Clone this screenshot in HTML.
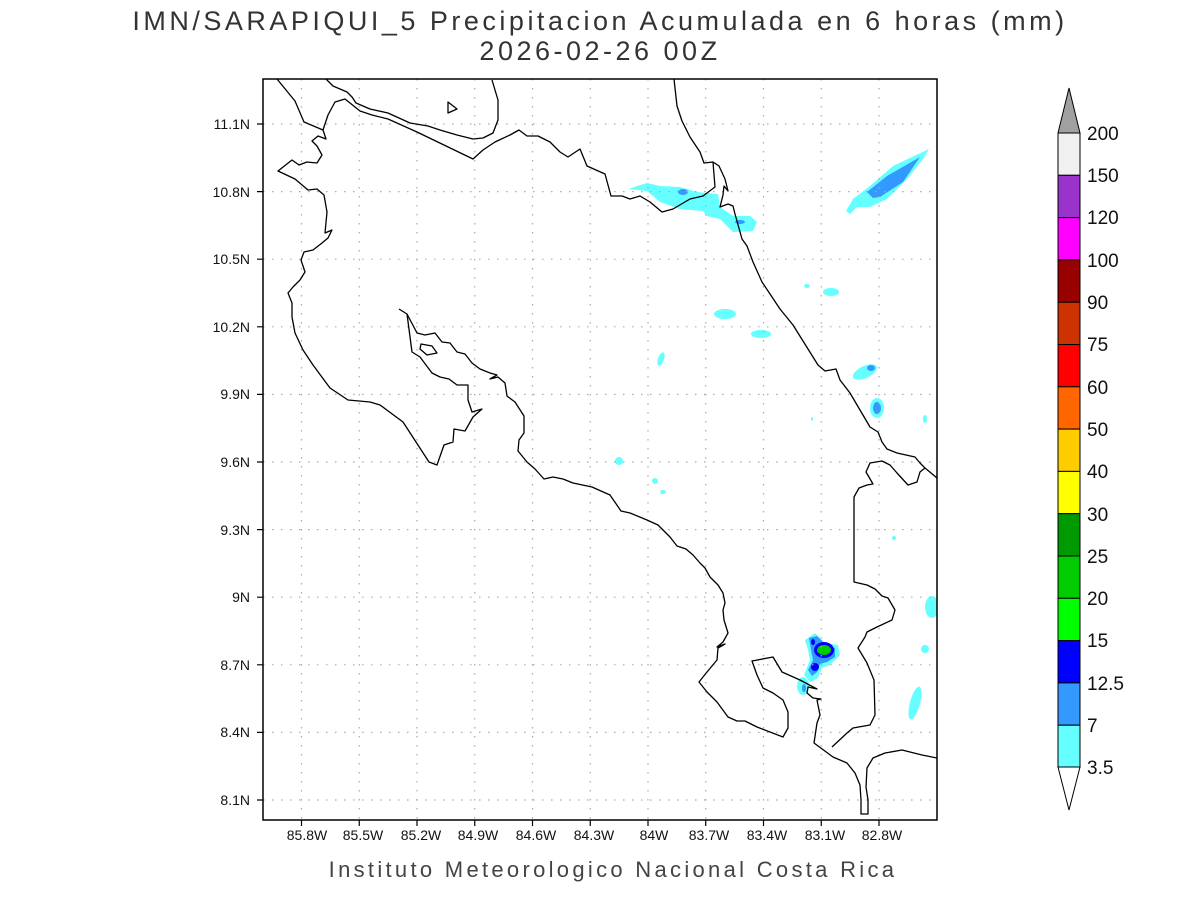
<!DOCTYPE html>
<html><head><meta charset="utf-8"><style>body{margin:0;background:#fff}svg{display:block}text{font-family:"Liberation Sans",sans-serif}</style></head><body>
<svg width="1200" height="900" viewBox="0 0 1200 900" xmlns="http://www.w3.org/2000/svg">
<rect width="1200" height="900" fill="#fff"/>
<text x="600" y="30" font-size="27" text-anchor="middle" fill="#333" letter-spacing="3.5">IMN/SARAPIQUI_5 Precipitacion Acumulada en 6 horas (mm)</text>
<text x="600" y="60" font-size="27" text-anchor="middle" fill="#333" letter-spacing="3.5">2026-02-26 00Z</text>
<defs><clipPath id="c"><rect x="263" y="79" width="674" height="741"/></clipPath></defs>
<g clip-path="url(#c)">
<g fill="#66ffff">
<path d="M846,211 853,199 870,186 893,166 929,149 923,159 907,179 887,199 870,207 857,207 850,214Z"/>
<path d="M628,189 647,183 660,186 680,187 697,192 718,194 720,207 733,216 750,216 757,222 753,231 733,232 720,219 707,216 703,211 680,209 660,202 647,191Z"/>
<ellipse cx="725" cy="314" rx="11" ry="5"/><ellipse cx="761" cy="334" rx="10" ry="4"/>
<ellipse cx="661" cy="359" rx="3" ry="7" transform="rotate(20 661 359)"/><ellipse cx="831" cy="292" rx="8" ry="4"/>
<ellipse cx="807" cy="286" rx="3" ry="2"/><ellipse cx="619" cy="461" rx="4" ry="4"/><ellipse cx="655" cy="481" rx="3" ry="3"/><ellipse cx="663" cy="492" rx="3" ry="2"/>
<ellipse cx="865" cy="372" rx="13" ry="6" transform="rotate(-25 865 372)"/><ellipse cx="877" cy="408" rx="7" ry="10"/>
<ellipse cx="925" cy="419" rx="2" ry="4"/><ellipse cx="812" cy="419" rx="1" ry="2"/><ellipse cx="894" cy="538" rx="2" ry="2"/>
<ellipse cx="932" cy="607" rx="7" ry="11"/><ellipse cx="925" cy="649" rx="4" ry="4"/>
<ellipse cx="915" cy="703" rx="5" ry="17" transform="rotate(15 915 703)"/>
<path d="M805,640 815,633 825,643 838,645 840,655 830,665 822,668 818,678 810,682 804,675 810,660 808,650Z"/>
<ellipse cx="803" cy="686" rx="6" ry="9"/>
</g>
<g fill="#3399ff">
<path d="M867,192 887,176 920,157 903,182 880,197 873,198Z"/>
<ellipse cx="683" cy="192" rx="5" ry="3"/><ellipse cx="740" cy="222" rx="5" ry="2"/>
<ellipse cx="871" cy="368" rx="4" ry="3"/><ellipse cx="877" cy="408" rx="4" ry="6"/>
<path d="M809,638 817,636 826,645 835,648 835,657 827,662 820,664 817,672 812,676 808,670 813,660 811,650Z"/>
<ellipse cx="804" cy="688" rx="2" ry="4"/>
</g>
<g fill="#0000ff"><ellipse cx="824" cy="650" rx="10" ry="8"/><ellipse cx="815" cy="667" rx="4" ry="4"/><ellipse cx="813" cy="642" rx="2" ry="3"/></g>
<ellipse cx="824" cy="650" rx="7" ry="5" fill="#00cc00"/>
<g stroke="#aaa" stroke-width="1.2" stroke-dasharray="1.5,7.5">
<path d="M301.5,79V820M359.25,79V820M417,79V820M474.75,79V820M532.5,79V820M590.25,79V820M648,79V820M705.75,79V820M763.5,79V820M821.25,79V820M879,79V820"/>
<path d="M263,124H937M263,191.6H937M263,259.2H937M263,326.8H937M263,394.4H937M263,462H937M263,529.6H937M263,597.2H937M263,664.8H937M263,732.4H937M263,800H937"/>
</g>
<g fill="none" stroke="#000" stroke-width="1.3" stroke-linejoin="round">
<path d="M277,79 295,101 304,122 323,130 326,139 318,136 312,141 317,146 322,155 317,163 307,162 299,165 292,160 278,171 295,179 308,190 317,189 324,195 327,212 325,233 332,230 328,238 322,243 313,250 304,252 301,260 305,272 300,280 293,287 288,293 292,303 292,317 295,333 303,350 313,365 330,388 348,400 370,402 380,405 403,422 429,462 437,465 444,445 453,442 454,429 465,431 473,417 482,409 472,412 468,400 468,385 457,385 449,379 440,377 432,373 420,357 412,352 407,314 399,309"/>
<path d="M407,314 417,333 425,335 435,333 442,342 450,343 457,352 465,354 472,363 480,369 490,373 497,375 490,379 498,377 505,383 507,396 515,402 524,416 524,433 519,440 518,451 527,462 535,469 544,479 553,477 563,479 573,483 592,487 610,495 621,511 630,513 647,520 658,525 670,537 677,546 686,549 693,555 700,563 705,568 710,577 718,585 723,593 725,603 723,610 724,620 728,633 723,642 717,647 725,644 718,648 717,660 707,672 699,682 707,692 717,702 728,717 737,721 745,721 757,727 783,737 788,728 788,712 783,700 773,693 763,688 757,675 752,661 773,657 782,672 800,680 817,689 808,687 807,693 813,698 821,699 817,700 820,715 817,723 814,743 833,757 847,763 855,773 860,785 861,800 861,814 868,814 868,800 866,787 867,768 873,758 885,753 902,750 922,755 937,758"/>
<path d="M832,747 847,733 853,728 870,725 875,715 874,680 867,663 858,648 865,637 867,632 877,627 892,620 895,610 888,598 882,596 875,589 867,585 854,582 854,497 859,488 867,485 873,484 866,472 870,463 882,461 890,465 897,473 908,485 917,482 920,472 925,468 937,478"/>
<path d="M925,468 920,463 915,457 897,453 887,449 882,442 878,432 870,427 860,410 850,393 840,380 836,369 825,371 818,365 793,325 780,309 762,282 753,262 747,246 742,239 735,214 733,206 728,204 720,207 723,195 724,186 728,191 725,179 719,166 713,162 704,163 700,152 690,137 682,121 677,106 674,79"/>
<path d="M713,162 715,187 703,196 690,199 673,209 662,212 650,202 640,196 630,199 622,196 611,196 605,174 587,166 580,149 568,157 560,152 550,142 538,136 527,136 519,130 510,135 495,142 483,150 473,159 417,132 388,119 372,115 360,111 355,107 345,99 335,102 328,115 323,130"/>
<path d="M326,79 333,86 347,92 352,97 356,103 370,109 388,113 410,123 428,126 440,130 457,135 473,139 483,138 493,133 498,120 498,100 492,80"/>
<path d="M448,102 457,109 448,113Z"/>
<path d="M421,344 432,346 437,353 427,355 420,349Z"/>
</g>
</g>
<rect x="263" y="79" width="674" height="741" fill="none" stroke="#000" stroke-width="1.5"/>
<g stroke="#000" stroke-width="1.2">
<path d="M301.5,820v6M359.25,820v6M417,820v6M474.75,820v6M532.5,820v6M590.25,820v6M648,820v6M705.75,820v6M763.5,820v6M821.25,820v6M879,820v6"/>
<path d="M263,124h-6M263,191.6h-6M263,259.2h-6M263,326.8h-6M263,394.4h-6M263,462h-6M263,529.6h-6M263,597.2h-6M263,664.8h-6M263,732.4h-6M263,800h-6"/>
</g>
<g font-size="14" fill="#111" text-anchor="end">
<text x="250" y="129">11.1N</text><text x="250" y="197">10.8N</text><text x="250" y="264">10.5N</text><text x="250" y="332">10.2N</text><text x="250" y="399">9.9N</text><text x="250" y="467">9.6N</text><text x="250" y="535">9.3N</text><text x="250" y="602">9N</text><text x="250" y="670">8.7N</text><text x="250" y="737">8.4N</text><text x="250" y="805">8.1N</text>
</g>
<g font-size="14" fill="#111" text-anchor="middle">
<text x="307" y="840">85.8W</text><text x="363" y="840">85.5W</text><text x="421" y="840">85.2W</text><text x="478" y="840">84.9W</text><text x="536" y="840">84.6W</text><text x="594" y="840">84.3W</text><text x="654" y="840">84W</text><text x="709" y="840">83.7W</text><text x="767" y="840">83.4W</text><text x="825" y="840">83.1W</text><text x="882" y="840">82.8W</text>
</g>
<text x="613" y="877" font-size="22" text-anchor="middle" fill="#444" letter-spacing="3.3">Instituto Meteorologico Nacional Costa Rica</text>
<g stroke="#000" stroke-width="1">
<path d="M1058,133 1069,88 1080,133Z" fill="#a0a0a0"/>
<path d="M1058,767 1069,810 1080,767Z" fill="#fff"/>
<rect x="1058" y="133" width="22" height="42.3" fill="#f0f0f0"/>
<rect x="1058" y="175.3" width="22" height="42.3" fill="#9933cc"/>
<rect x="1058" y="217.6" width="22" height="42.3" fill="#ff00ff"/>
<rect x="1058" y="259.9" width="22" height="42.3" fill="#990000"/>
<rect x="1058" y="302.2" width="22" height="42.3" fill="#cc3300"/>
<rect x="1058" y="344.5" width="22" height="42.3" fill="#ff0000"/>
<rect x="1058" y="386.8" width="22" height="42.3" fill="#ff6600"/>
<rect x="1058" y="429.1" width="22" height="42.3" fill="#ffcc00"/>
<rect x="1058" y="471.4" width="22" height="42.3" fill="#ffff00"/>
<rect x="1058" y="513.7" width="22" height="42.3" fill="#009900"/>
<rect x="1058" y="556" width="22" height="42.3" fill="#00cc00"/>
<rect x="1058" y="598.3" width="22" height="42.3" fill="#00ff00"/>
<rect x="1058" y="640.6" width="22" height="42.3" fill="#0000ff"/>
<rect x="1058" y="682.9" width="22" height="42.3" fill="#3399ff"/>
<rect x="1058" y="725.2" width="22" height="41.8" fill="#66ffff"/>
</g>
<g font-size="19" fill="#111">
<text x="1087" y="140">200</text><text x="1087" y="182">150</text><text x="1087" y="224">120</text><text x="1087" y="267">100</text><text x="1087" y="309">90</text><text x="1087" y="351">75</text><text x="1087" y="394">60</text><text x="1087" y="436">50</text><text x="1087" y="478">40</text><text x="1087" y="521">30</text><text x="1087" y="563">25</text><text x="1087" y="605">20</text><text x="1087" y="647">15</text><text x="1087" y="690">12.5</text><text x="1087" y="732">7</text><text x="1087" y="774">3.5</text>
</g>
</svg>
</body></html>
